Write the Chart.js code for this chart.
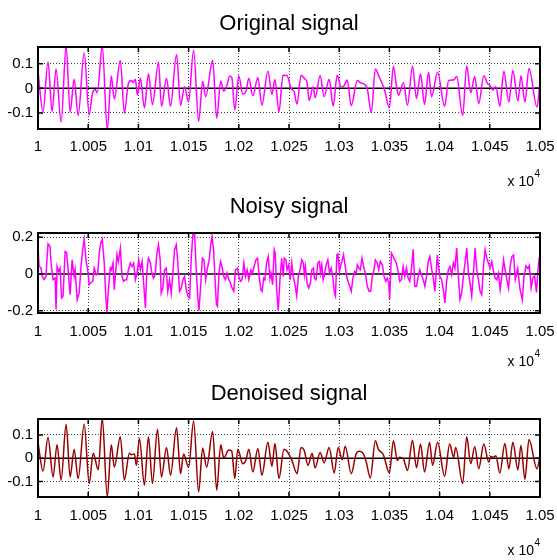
<!DOCTYPE html>
<html>
<head>
<meta charset="utf-8">
<title>Signals</title>
<script src="https://cdn.jsdelivr.net/npm/chart.js@4.4.1/dist/chart.umd.min.js"></script>
<style>
  body { margin: 0; background: #fff; }
  #wrap { position: relative; width: 557px; height: 560px; }
  canvas { position: absolute; left: 0; }
</style>
</head>
<body>
<div id="wrap">
  <canvas id="c1" width="557" height="190" style="top:0px"></canvas>
  <canvas id="c2" width="557" height="180" style="top:190px"></canvas>
  <canvas id="c3" width="557" height="190" style="top:370px"></canvas>
</div>
<script>
// axis ticks (x is in samples, labelled in units of 10^4)
var xTicks = [10000, 10050, 10100, 10150, 10200, 10250, 10300, 10350, 10400, 10450, 10500];
var xTickLabels = ['1', '1.005', '1.01', '1.015', '1.02', '1.025', '1.03', '1.035', '1.04', '1.045', '1.05'];
var yTicksSmall = [-0.1, 0, 0.1];
var yTicksLarge = [-0.2, 0, 0.2];

var origX = [10000, 10005, 10010, 10014, 10018, 10023, 10028, 10032, 10036, 10040,
  10046, 10051, 10054, 10057, 10059, 10064, 10069, 10073, 10076, 10082,
  10086, 10090, 10093, 10095, 10097, 10099, 10102, 10106, 10110, 10114,
  10120, 10123, 10128, 10132, 10138, 10142, 10146, 10150, 10155, 10160,
  10164, 10167, 10174, 10178, 10182, 10185, 10188, 10191, 10193, 10196,
  10200, 10204, 10207, 10210, 10214, 10219, 10223, 10229, 10233, 10236,
  10240, 10244, 10248, 10252, 10255, 10258, 10262, 10266, 10268, 10270,
  10274, 10276, 10281, 10285, 10290, 10294, 10298, 10302, 10305, 10308,
  10312, 10318, 10321, 10325, 10328, 10332, 10336, 10340, 10345, 10350,
  10354, 10357, 10359, 10364, 10368, 10373, 10377, 10381, 10385, 10389,
  10392, 10398, 10405, 10409, 10414, 10417, 10423, 10427, 10431, 10435,
  10439, 10444, 10448, 10450, 10453, 10456, 10460, 10464, 10469, 10473,
  10478, 10481, 10485, 10489, 10497, 10500];
var origY = [0.069, -0.096, 0.108, -0.094, 0.079, -0.137, 0.17, -0.096, 0.037, -0.11,
  0.145, -0.108, -0.025, -0.005, -0.018, 0.17, -0.167, 0.05, -0.043, 0.113,
  -0.1, 0.02, 0.032, 0.024, 0.037, -0.027, 0.041, -0.079, 0.059, -0.066,
  0.106, -0.073, 0.041, -0.073, 0.138, -0.069, 0.007, -0.055, 0.156, -0.134,
  0.028, -0.034, 0.114, -0.121, 0.03, -0.011, 0.01, 0.05, 0.045, -0.087,
  0.05, -0.024, -0.014, 0.041, -0.03, 0.044, -0.068, 0.07, -0.024, 0.036,
  -0.096, 0.053, 0.052, 0.001, -0.013, -0.064, 0.053, 0.037, 0.023, -0.049,
  0.007, -0.038, 0.052, -0.033, 0.037, -0.072, 0.053, 0.005, 0.012, 0.034,
  -0.07, 0.032, 0.023, 0.017, -0.002, -0.099, 0.079, 0.045, -0.004, -0.079,
  0.09, 0.01, -0.028, 0.023, -0.069, 0.09, -0.041, 0.059, -0.066, 0.065,
  -0.034, 0.065, -0.073, 0.032, 0.034, 0.048, -0.11, 0.092, -0.018, 0.048,
  -0.062, 0.051, 0.018, 0.014, -0.007, 0.007, -0.072, 0.07, -0.055, 0.073,
  -0.052, 0.051, -0.056, 0.081, -0.076, 0.025];

// noisy signal
var noisyX = [10000, 10001, 10003, 10004.3, 10006, 10008, 10009, 10010, 10012, 10013,
  10015, 10017, 10018, 10019, 10020.5, 10022, 10023.5, 10025, 10027, 10028.5,
  10030, 10032, 10034, 10036, 10037, 10039, 10041, 10043, 10044.5, 10046,
  10048, 10049.5, 10051, 10052, 10054.5, 10056, 10058, 10059.5, 10061, 10062.5,
  10064, 10066, 10067.5, 10068.7, 10070, 10072, 10073, 10074.7, 10076, 10077,
  10078.7, 10080, 10082, 10083.7, 10085.3, 10087, 10088.3, 10090, 10092, 10093.7,
  10095.3, 10097, 10098.7, 10100.3, 10102, 10103.7, 10105, 10107, 10108.3, 10110,
  10112, 10113.3, 10115, 10116.7, 10118.3, 10120, 10121.7, 10122.7, 10124.3, 10126,
  10127.7, 10129.3, 10131, 10132.7, 10134.3, 10136, 10137.7, 10139.3, 10141, 10142.7,
  10144.3, 10146, 10147.7, 10149.3, 10151, 10152.7, 10154.3, 10156, 10157.7, 10159.3,
  10160.3, 10162, 10163.7, 10165.3, 10167, 10168.7, 10170.3, 10172, 10173.3, 10175,
  10176, 10177.7, 10178.7, 10180.3, 10181.7, 10183.3, 10185, 10186.7, 10188.3, 10190,
  10191.7, 10193.3, 10195, 10196.7, 10198.7, 10200, 10201.7, 10203.3, 10205, 10206.7,
  10208.3, 10210, 10212, 10213.7, 10215.3, 10217, 10218.7, 10220.3, 10222, 10223.3,
  10224.7, 10226, 10227.7, 10229.3, 10231, 10232, 10233.7, 10235.3, 10236.3, 10237.7,
  10239.3, 10241, 10242.7, 10244.3, 10245.3, 10247, 10248, 10249.7, 10251.3, 10252.7,
  10254.3, 10256, 10257.7, 10259.3, 10261, 10262.7, 10264.3, 10265.3, 10266.3, 10268,
  10269.7, 10271.3, 10272.7, 10274.3, 10275.3, 10277, 10278.7, 10280.3, 10281.3, 10282.7,
  10284, 10285.3, 10287, 10288.7, 10290.3, 10292, 10293.7, 10295.3, 10296.3, 10297.7,
  10298.7, 10300.3, 10301.3, 10302.7, 10304.3, 10306, 10307.7, 10309.3, 10311, 10312,
  10313.7, 10315.3, 10317, 10318, 10319.7, 10321, 10322.7, 10324.3, 10326, 10328,
  10329.7, 10331.3, 10333, 10334.7, 10336, 10338, 10339.3, 10341, 10343, 10344.7,
  10346.3, 10348, 10349.3, 10350.3, 10352, 10353.7, 10355.3, 10357, 10358.7, 10360.3,
  10362, 10363.7, 10365.3, 10367, 10368.7, 10370.3, 10372, 10373.7, 10375.3, 10377,
  10378.7, 10380.3, 10382, 10383.7, 10385.3, 10387, 10388.7, 10390.3, 10392, 10393.7,
  10395.3, 10396.3, 10397.7, 10398.7, 10400.3, 10402, 10403.7, 10405.3, 10407, 10408.7,
  10410.3, 10412, 10413.7, 10415.3, 10417, 10418.7, 10420.3, 10422, 10423.7, 10425.3,
  10427, 10428.7, 10430.3, 10432, 10433.7, 10435.3, 10437, 10438.7, 10440.3, 10442,
  10443.7, 10445.3, 10447, 10448.7, 10450.3, 10452, 10453.7, 10455.3, 10457, 10458.7,
  10460.3, 10462, 10463.7, 10465.3, 10467, 10468.7, 10470.3, 10472, 10473.7, 10475.4,
  10477.8, 10480, 10482.4, 10484, 10486, 10488, 10489.4, 10491.2, 10493, 10494.7,
  10496.5, 10498, 10499, 10500];
var noisyY = [0.15, 0.045, 0.032, -0.013, -0.03, -0.013, 0.086, 0.164, 0.15, 0.06,
  -0.03, -0.022, -0.193, 0.041, 0.014, 0.032, -0.13, -0.12, 0.122, 0.117,
  0.022, -0.112, 0.077, -0.013, 0.022, -0.139, -0.103, 0.05, 0.132, 0.189,
  0.068, 0.022, -0.058, -0.05, -0.04, 0.032, -0.004, 0.005, 0.114, 0.168,
  0.189, 0.06, -0.12, -0.21, -0.094, 0.032, 0.022, 0.06, -0.085, -0.013,
  0.105, 0.068, 0.141, -0.013, -0.04, -0.031, -0.031, 0.022, 0.06, 0.041,
  0.06, -0.031, 0.005, 0.077, 0.022, 0.068, -0.031, -0.184, 0.005, 0.086,
  0.06, 0.005, -0.022, -0.004, 0.105, 0.159, 0.077, -0.103, -0.076, 0.022,
  0.032, -0.094, -0.031, -0.103, 0.005, 0.132, 0.159, 0.06, -0.094, -0.076,
  -0.031, -0.013, -0.085, -0.12, -0.13, 0.095, 0.213, 0.218, 0.014, -0.139,
  -0.2, -0.067, 0.086, 0.077, -0.03, 0.032, 0.068, 0.159, 0.204, 0.122,
  0.005, -0.166, -0.175, 0.005, 0.068, 0.041, -0.013, -0.031, 0.005, -0.031,
  -0.049, -0.076, -0.094, 0.022, 0.032, -0.013, -0.04, -0.031, 0.06, -0.013,
  0.022, -0.031, 0.022, 0.005, 0.041, 0.077, 0.086, -0.013, -0.085, -0.094,
  -0.022, -0.031, 0.06, 0.095, -0.022, 0.005, -0.058, 0.132, 0.114, -0.085,
  -0.2, -0.031, 0.086, -0.013, 0.086, 0.077, 0.023, 0.05, -0.031, 0.06,
  -0.013, -0.058, -0.12, -0.013, 0.023, 0.077, 0.06, -0.004, 0.041, -0.049,
  -0.076, -0.049, 0.023, 0.032, -0.022, -0.031, 0.06, 0.068, 0.005, 0.05,
  -0.031, -0.004, 0.05, 0.077, 0.005, 0.032, -0.022, -0.103, -0.12, 0.105,
  0.11, 0.014, 0.041, 0.068, 0.105, 0.041, -0.022, -0.049, -0.076, -0.094,
  -0.022, 0.014, 0.005, 0.05, 0.032, 0.023, 0.086, 0.041, 0.005, -0.067,
  -0.094, -0.094, -0.013, 0.023, 0.077, 0.059, 0.023, 0.068, 0.05, -0.013,
  -0.04, -0.022, -0.049, -0.139, 0.114, 0.095, 0.077, 0.06, 0.014, -0.04,
  -0.031, 0.041, -0.013, 0.032, -0.022, -0.04, 0.032, 0.135, -0.067, -0.067,
  -0.013, 0.023, -0.004, -0.031, -0.067, -0.013, 0.068, 0.095, 0.032, -0.022,
  -0.094, -0.013, 0.105, 0.05, -0.013, -0.031, -0.085, -0.157, -0.04, 0.023,
  0.041, -0.004, 0.06, 0.032, 0.141, -0.013, -0.139, -0.103, -0.013, 0.06,
  0.141, 0.005, -0.049, -0.12, 0.005, 0.141, 0.023, -0.031, -0.094, -0.112,
  0.041, 0.132, 0.086, 0.059, 0.032, 0.068, 0.014, -0.022, -0.031, 0.005,
  -0.085, -0.013, 0.077, 0.023, -0.031, -0.076, 0.041, 0.095, 0.104, -0.03,
  0.03, -0.08, -0.14, -0.02, 0.044, 0.03, 0.047, -0.075, -0.02, -0.01,
  -0.1, 0.02, 0.08, 0.07];

// denoised signal
var denX = [10000, 10005, 10010, 10015, 10019, 10023, 10028, 10032, 10036, 10040,
  10046, 10051, 10055, 10060, 10064, 10069, 10073, 10076, 10082, 10086,
  10091, 10093, 10096, 10098, 10101, 10106, 10110, 10114, 10119, 10123,
  10128, 10132, 10138, 10142, 10145, 10150, 10155, 10160, 10164, 10168,
  10174, 10178, 10182, 10185, 10190, 10193, 10196, 10199, 10204, 10207,
  10210, 10214, 10219, 10223, 10229, 10233, 10236, 10240, 10245, 10248,
  10253, 10258, 10262, 10265, 10269, 10273, 10276, 10281, 10285, 10290,
  10295, 10299, 10303, 10306, 10312, 10317, 10320, 10324, 10327, 10331,
  10336, 10339, 10344, 10350, 10354, 10358, 10360, 10364, 10368, 10373,
  10377, 10381, 10385, 10390, 10393, 10398, 10405, 10410, 10414, 10416,
  10423, 10427, 10431, 10435, 10439, 10444, 10449, 10451, 10454, 10456,
  10460, 10465, 10469, 10473, 10478, 10481, 10485, 10489, 10497, 10500];
var denY = [0.068, -0.055, 0.089, -0.08, 0.058, -0.094, 0.145, -0.08, 0.039, -0.087,
  0.145, -0.108, 0.021, -0.049, 0.17, -0.165, 0.058, -0.038, 0.092, -0.094,
  0.021, 0.015, 0.018, -0.031, 0.086, -0.115, 0.092, -0.108, 0.124, -0.08,
  0.046, -0.073, 0.131, -0.066, 0.018, -0.038, 0.159, -0.144, 0.044, -0.038,
  0.114, -0.137, 0.058, 0.001, 0.035, 0.03, -0.087, 0.039, -0.024, -0.01,
  0.039, -0.059, 0.042, -0.073, 0.068, -0.035, 0.063, -0.087, 0.039, 0.03,
  -0.01, -0.066, 0.046, 0.035, -0.031, 0.021, -0.041, 0.025, -0.02, 0.046,
  -0.063, 0.046, -0.007, 0.051, -0.066, 0.021, 0.03, 0.02, -0.017, -0.085,
  0.075, 0.039, 0.015, -0.063, 0.075, -0.01, 0.004, -0.003, -0.052, 0.077,
  -0.041, 0.061, -0.059, 0.068, -0.031, 0.068, -0.077, 0.061, 0.004, 0.046,
  -0.108, 0.092, -0.024, 0.049, -0.045, 0.061, -0.017, 0.007, 0.004, 0.011,
  -0.063, 0.063, -0.045, 0.068, -0.05, 0.055, -0.09, 0.08, -0.045, 0.01];

var FONT = "'Liberation Sans', Arial, sans-serif";

function toPoints(xs, ys) {
  var pts = [];
  for (var i = 0; i < xs.length; i++) {
    pts.push({ x: xs[i], y: ys[i] });
  }
  return pts;
}

// box, inward ticks, solid zero line, centred title and the "x 10^4" note, like MATLAB axes
var matlabAxes = {
  id: 'matlabAxes',
  beforeDatasetsDraw: function (chart) {
    var ctx = chart.ctx, a = chart.chartArea;
    var y0 = chart.scales.y.getPixelForValue(0);
    ctx.save();
    ctx.strokeStyle = '#000';
    ctx.lineWidth = 1.5;
    ctx.beginPath();
    ctx.moveTo(a.left, y0);
    ctx.lineTo(a.right, y0);
    ctx.stroke();
    ctx.restore();
  },
  afterDatasetsDraw: function (chart, args, opts) {
    var ctx = chart.ctx, a = chart.chartArea;
    var sx = chart.scales.x, sy = chart.scales.y;
    ctx.save();
    ctx.strokeStyle = '#000';
    ctx.lineWidth = 1.5;
    ctx.beginPath();
    sx.ticks.forEach(function (t) {
      var px = sx.getPixelForValue(t.value);
      ctx.moveTo(px, a.bottom); ctx.lineTo(px, a.bottom - 5);
      ctx.moveTo(px, a.top); ctx.lineTo(px, a.top + 5);
    });
    sy.ticks.forEach(function (t) {
      var py = sy.getPixelForValue(t.value);
      ctx.moveTo(a.left, py); ctx.lineTo(a.left + 5, py);
      ctx.moveTo(a.right, py); ctx.lineTo(a.right - 5, py);
    });
    ctx.stroke();
    ctx.lineWidth = 2;
    ctx.strokeRect(a.left, a.top, a.right - a.left, a.bottom - a.top);

    ctx.fillStyle = '#000';
    ctx.textAlign = 'center';
    ctx.textBaseline = 'middle';
    ctx.font = '22px ' + FONT;
    ctx.fillText(opts.title, (a.left + a.right) / 2, opts.titleY);

    ctx.textAlign = 'right';
    ctx.font = '14px ' + FONT;
    ctx.fillText('x 10', a.right - 6, opts.expY);
    ctx.font = '10px ' + FONT;
    ctx.fillText('4', a.right, opts.expY - 8);
    ctx.restore();
  }
};

function makeChart(id, title, xs, ys, color, yMin, yMax, yTicks, lay) {
  var ctx = document.getElementById(id).getContext('2d');
  var canvasH = document.getElementById(id).height;
  return new Chart(ctx, {
    type: 'line',
    data: {
      datasets: [{
        data: toPoints(xs, ys),
        borderColor: color,
        borderWidth: 1.5,
        pointRadius: 0,
        fill: false,
        tension: lay.tension,
        cubicInterpolationMode: lay.mode
      }]
    },
    options: {
      responsive: false,
      animation: false,
      events: [],
      layout: { padding: { left: 0, right: 17, top: lay.plotTop, bottom: 0 } },
      plugins: {
        legend: { display: false },
        tooltip: { enabled: false },
        title: { display: false },
        matlabAxes: { title: title, titleY: lay.titleY, expY: lay.expY }
      },
      scales: {
        x: {
          type: 'linear',
          min: 10000,
          max: 10500,
          afterBuildTicks: function (scale) {
            scale.ticks = xTicks.map(function (v) { return { value: v }; });
          },
          afterFit: function (scale) {
            scale.height = canvasH - lay.plotBottom;
            scale.paddingLeft = 0;
            scale.paddingRight = 0;
          },
          ticks: {
            color: '#000',
            padding: lay.tickPad,
            maxRotation: 0,
            autoSkip: false,
            font: { family: FONT, size: 15 },
            callback: function (value, index) { return xTickLabels[index]; }
          },
          grid: { color: 'rgba(0,0,0,0.75)', lineWidth: 1, drawTicks: false },
          border: { display: false, dash: [1, 2] }
        },
        y: {
          min: yMin,
          max: yMax,
          afterBuildTicks: function (scale) {
            scale.ticks = yTicks.map(function (v) { return { value: v }; });
          },
          afterFit: function (scale) {
            scale.width = 38;
            scale.paddingTop = 0;
            scale.paddingBottom = 0;
          },
          ticks: {
            color: '#000',
            padding: 5,
            font: { family: FONT, size: 15 },
            callback: function (value) { return String(value); }
          },
          grid: {
            color: function (c) { return c.tick && c.tick.value === 0 ? 'rgba(0,0,0,0)' : 'rgba(0,0,0,0.75)'; },
            lineWidth: 1,
            drawTicks: false
          },
          border: { display: false, dash: [1, 2] }
        }
      }
    },
    plugins: [matlabAxes]
  });
}

makeChart('c1', 'Original signal', origX, origY, '#ff00ff', -0.165, 0.168, yTicksSmall,
  { titleY: 24, plotTop: 47, plotBottom: 129, tickPad: 9, expY: 182, tension: 0.4, mode: 'monotone' });
makeChart('c2', 'Noisy signal', noisyX, noisyY, '#ff00ff', -0.212, 0.223, yTicksLarge,
  { titleY: 17, plotTop: 43, plotBottom: 123, tickPad: 10, expY: 172, tension: 0, mode: 'default' });
makeChart('c3', 'Denoised signal', denX, denY, '#990000', -0.166, 0.168, yTicksSmall,
  { titleY: 24, plotTop: 49, plotBottom: 127, tickPad: 10, expY: 181, tension: 0.4, mode: 'monotone' });
</script>
</body>
</html>
